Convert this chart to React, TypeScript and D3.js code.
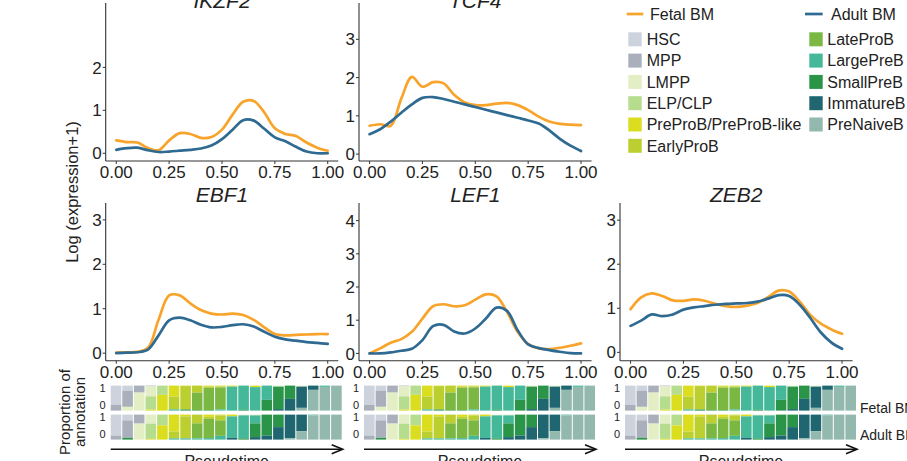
import React from "react";
import * as d3 from "d3";

// ---------------- data ----------------
const pseudotime = [0, 0.05, 0.1, 0.15, 0.2, 0.25, 0.3, 0.35, 0.4, 0.45, 0.5, 0.55, 0.6, 0.65, 0.7, 0.75, 0.8, 0.85, 0.9, 0.95, 1.0];

const ikzf2Fetal = [0.30, 0.26, 0.25, 0.12, 0.07, 0.30, 0.47, 0.45, 0.36, 0.38, 0.55, 0.90, 1.20, 1.22, 0.95, 0.58, 0.45, 0.40, 0.25, 0.13, 0.06];
const ikzf2Adult = [0.08, 0.12, 0.13, 0.07, 0.03, 0.04, 0.06, 0.08, 0.11, 0.18, 0.33, 0.55, 0.77, 0.76, 0.57, 0.37, 0.28, 0.15, 0.04, 0.0, 0.0];

const tcf4Fetal = [0.74, 0.78, 0.74, 1.45, 2.02, 1.76, 1.88, 1.85, 1.55, 1.35, 1.28, 1.28, 1.32, 1.34, 1.28, 1.15, 0.98, 0.85, 0.79, 0.77, 0.76];
const tcf4Adult = [0.52, 0.65, 0.85, 1.08, 1.3, 1.47, 1.49, 1.44, 1.37, 1.30, 1.23, 1.16, 1.09, 1.02, 0.95, 0.88, 0.80, 0.62, 0.40, 0.22, 0.08];

const ebf1Fetal = [0.01, 0.02, 0.03, 0.12, 0.75, 1.30, 1.30, 1.12, 0.97, 0.89, 0.87, 0.89, 0.86, 0.75, 0.58, 0.43, 0.40, 0.41, 0.42, 0.43, 0.43];
const ebf1Adult = [0.0, 0.01, 0.02, 0.08, 0.40, 0.74, 0.80, 0.74, 0.64, 0.58, 0.59, 0.63, 0.65, 0.60, 0.48, 0.37, 0.31, 0.28, 0.25, 0.23, 0.21];

const lef1Fetal = [0.0, 0.15, 0.32, 0.43, 0.65, 1.05, 1.42, 1.48, 1.42, 1.45, 1.62, 1.78, 1.72, 1.25, 0.65, 0.28, 0.15, 0.13, 0.17, 0.23, 0.30];
const lef1Adult = [0.0, 0.0, 0.03, 0.08, 0.14, 0.40, 0.82, 0.86, 0.66, 0.60, 0.75, 1.05, 1.38, 1.28, 0.70, 0.27, 0.16, 0.10, 0.05, 0.01, 0.0];

const zeb2Fetal = [0.98, 1.25, 1.34, 1.28, 1.18, 1.17, 1.20, 1.17, 1.10, 1.05, 1.03, 1.06, 1.12, 1.25, 1.40, 1.38, 1.15, 0.85, 0.65, 0.52, 0.42];
const zeb2Adult = [0.60, 0.72, 0.86, 0.82, 0.86, 0.97, 1.02, 1.05, 1.08, 1.10, 1.11, 1.12, 1.15, 1.22, 1.30, 1.28, 1.08, 0.78, 0.45, 0.22, 0.08];

const xTicks = [0, 0.25, 0.5, 0.75, 1.0];
const xTickLabels = ["0.00", "0.25", "0.50", "0.75", "1.00"];

const categories = ["HSC", "MPP", "LMPP", "ELP/CLP", "PreProB/PreProB-like", "EarlyProB", "LateProB", "LargePreB", "SmallPreB", "ImmatureB", "PreNaiveB"];
const categoryColors = ["#ccd3dc", "#a9b0bb", "#e4eec4", "#b6dc8e", "#dbdd1f", "#bccf30", "#7bb843", "#45b89a", "#2a9548", "#1f6671", "#93b8ae"];

// proportions per pseudotime bin, one value per category (HSC ... PreNaiveB)
const fetalBins = [
  [0.77, 0.23, 0, 0, 0, 0, 0, 0, 0, 0, 0],
  [0.2, 0.65, 0.15, 0, 0, 0, 0, 0, 0, 0, 0],
  [0, 0.28, 0.72, 0, 0, 0, 0, 0, 0, 0, 0],
  [0, 0.03, 0.4, 0.53, 0.04, 0, 0, 0, 0, 0, 0],
  [0, 0, 0, 0.37, 0.63, 0, 0, 0, 0, 0, 0],
  [0, 0, 0, 0, 0.44, 0.51, 0, 0.05, 0, 0, 0],
  [0, 0, 0, 0, 0.02, 0.92, 0.02, 0, 0.04, 0, 0],
  [0, 0, 0, 0, 0, 0.28, 0.7, 0, 0.02, 0, 0],
  [0, 0, 0, 0, 0.04, 0.05, 0.89, 0, 0.02, 0, 0],
  [0, 0, 0, 0, 0.03, 0.04, 0.88, 0.05, 0, 0, 0],
  [0, 0, 0, 0, 0.04, 0, 0, 0.96, 0, 0, 0],
  [0, 0, 0, 0, 0, 0, 0, 0.97, 0.03, 0, 0],
  [0, 0, 0, 0, 0.06, 0, 0, 0.94, 0, 0, 0],
  [0, 0, 0, 0, 0, 0, 0, 0.57, 0.43, 0, 0],
  [0, 0, 0.04, 0, 0, 0, 0, 0, 0.9, 0.06, 0],
  [0, 0, 0, 0, 0, 0, 0, 0, 0.53, 0.47, 0],
  [0, 0, 0.04, 0, 0, 0, 0, 0, 0, 0.85, 0.11],
  [0, 0, 0, 0, 0, 0, 0, 0, 0, 0.17, 0.83],
  [0, 0, 0, 0, 0, 0, 0, 0.05, 0, 0, 0.95],
  [0, 0, 0, 0, 0, 0, 0, 0, 0, 0, 1],
];
const adultBins = [
  [0.84, 0.16, 0, 0, 0, 0, 0, 0, 0, 0, 0],
  [0.23, 0.7, 0, 0, 0, 0, 0, 0, 0.07, 0, 0],
  [0, 0.36, 0.64, 0, 0, 0, 0, 0, 0, 0, 0],
  [0, 0, 0.36, 0.61, 0.03, 0, 0, 0, 0, 0, 0],
  [0, 0, 0, 0.43, 0.57, 0, 0, 0, 0, 0, 0],
  [0, 0, 0, 0, 0.68, 0.27, 0, 0.05, 0, 0, 0],
  [0, 0, 0, 0, 0.07, 0.88, 0, 0.05, 0, 0, 0],
  [0, 0, 0, 0, 0, 0.35, 0.6, 0.05, 0, 0, 0],
  [0, 0, 0, 0, 0.09, 0.08, 0.77, 0.06, 0, 0, 0],
  [0, 0, 0, 0, 0.03, 0.2, 0.62, 0.15, 0, 0, 0],
  [0, 0, 0, 0, 0.07, 0, 0, 0.86, 0, 0.07, 0],
  [0, 0, 0.03, 0, 0, 0, 0, 0.92, 0.05, 0, 0],
  [0, 0, 0.03, 0, 0, 0, 0, 0.32, 0.55, 0.1, 0],
  [0, 0, 0, 0, 0, 0, 0, 0, 0.84, 0.16, 0],
  [0, 0, 0, 0, 0, 0, 0, 0, 0.5, 0.5, 0],
  [0, 0, 0, 0, 0, 0, 0, 0, 0, 0.95, 0.05],
  [0, 0, 0, 0, 0, 0, 0, 0, 0, 0.67, 0.33],
  [0, 0, 0, 0, 0, 0, 0, 0.03, 0, 0, 0.97],
  [0, 0, 0, 0, 0, 0, 0, 0, 0, 0, 1],
  [0, 0, 0, 0, 0, 0, 0, 0, 0, 0, 1],
];

const FETAL = "#F8A32A";
const ADULT = "#2E6A92";
const TXT = "#222";
const AX = "#333";
const FONT = "'Liberation Sans', Arial, Helvetica, sans-serif";

// ---------------- layout ----------------
const colX = [105.7, 359, 620];
const axisW = 232.6;
const rowTop = [3, 203];
const rowBottom = [161, 360.7];
const titleY = [8, 202];
const xLabelY = [178, 377.5];

type PanelDef = {
  gene: string; col: number; row: number; fetal: number[]; adult: number[];
  domain: [number, number]; ticks: number[];
};

const panels: PanelDef[] = [
  { gene: "IKZF2", col: 0, row: 0, fetal: ikzf2Fetal, adult: ikzf2Adult, domain: [-0.18, 3.5], ticks: [0, 1, 2] },
  { gene: "TCF4", col: 1, row: 0, fetal: tcf4Fetal, adult: tcf4Adult, domain: [-0.18, 3.95], ticks: [0, 1, 2, 3] },
  { gene: "EBF1", col: 0, row: 1, fetal: ebf1Fetal, adult: ebf1Adult, domain: [-0.17, 3.38], ticks: [0, 1, 2, 3] },
  { gene: "LEF1", col: 1, row: 1, fetal: lef1Fetal, adult: lef1Adult, domain: [-0.22, 4.53], ticks: [0, 1, 2, 3, 4] },
  { gene: "ZEB2", col: 2, row: 1, fetal: zeb2Fetal, adult: zeb2Adult, domain: [-0.19, 3.39], ticks: [0, 1, 2, 3] },
];

function Panel({ p }: { p: PanelDef }) {
  const x0 = colX[p.col];
  const x = d3.scaleLinear().domain([-0.05, 1.05]).range([x0, x0 + axisW]);
  const y = d3.scaleLinear().domain(p.domain).range([rowBottom[p.row], rowTop[p.row]]);
  const line = d3
    .line<number>()
    .x((_, i) => x(pseudotime[i]))
    .y((d) => y(d))
    .curve(d3.curveCatmullRom.alpha(0.5));
  const bottom = rowBottom[p.row];
  return (
    <g>
      <text x={x0 + axisW / 2} y={titleY[p.row]} textAnchor="middle" fontSize={21} fontStyle="italic" fill={TXT}>
        {p.gene}
      </text>
      <line x1={x0} x2={x0} y1={rowTop[p.row]} y2={bottom} stroke={AX} strokeWidth={1.1} />
      <line x1={x0} x2={x0 + axisW} y1={bottom} y2={bottom} stroke={AX} strokeWidth={1.1} />
      {p.ticks.map((t) => (
        <g key={"y" + t}>
          <line x1={x0 - 3} x2={x0} y1={y(t)} y2={y(t)} stroke={AX} strokeWidth={1} />
          <text x={x0 - 4} y={y(t)} dy="0.36em" textAnchor="end" fontSize={17} fill={TXT}>
            {t}
          </text>
        </g>
      ))}
      {xTicks.map((t, i) => (
        <g key={"x" + t}>
          <line x1={x(t)} x2={x(t)} y1={bottom} y2={bottom + 3} stroke={AX} strokeWidth={1} />
          <text x={x(t)} y={xLabelY[p.row]} textAnchor="middle" fontSize={17} fill={TXT}>
            {xTickLabels[i]}
          </text>
        </g>
      ))}
      <path d={line(p.fetal) || ""} fill="none" stroke={FETAL} strokeWidth={2.7} strokeLinecap="round" />
      <path d={line(p.adult) || ""} fill="none" stroke={ADULT} strokeWidth={2.7} strokeLinecap="round" />
    </g>
  );
}

const stripTop = [385.6, 414.6];
const stripH = 25;
const stripW = 232;

function Strip({ col, showRight }: { col: number; showRight: boolean }) {
  const sx = colX[col] + 5;
  const band = d3
    .scaleBand<number>()
    .domain(d3.range(fetalBins.length))
    .range([sx, sx + stripW])
    .paddingInner(0);
  const bw = band.bandwidth();
  const sets = [fetalBins, adultBins];
  return (
    <g>
      {sets.map((bins, si) => {
        const top = stripTop[si];
        const yp = d3.scaleLinear().domain([0, 1]).range([top, top + stripH]);
        return (
          <g key={si}>
            {bins.map((row, bi) => {
              let cum = 0;
              return row.map((v, ci) => {
                if (v <= 0) return null;
                const y1 = yp(cum);
                cum += v;
                const y2 = yp(cum);
                return (
                  <rect key={bi + "-" + ci} x={band(bi)!} y={y1} width={bw - 1} height={y2 - y1} fill={categoryColors[ci]} />
                );
              });
            })}
            <text x={sx - 5} y={top + 2.5} dy="0.35em" textAnchor="end" fontSize={11} fill={TXT}>1</text>
            <text x={sx - 5} y={top + stripH - 5.5} dy="0.35em" textAnchor="end" fontSize={11} fill={TXT}>0</text>
          </g>
        );
      })}
      {showRight && (
        <g>
          <text x={sx + stripW + 3} y={408} dy="0.36em" fontSize={14} fill={TXT}>Fetal BM</text>
          <text x={sx + stripW + 3} y={435} dy="0.36em" fontSize={14} fill={TXT}>Adult BM</text>
        </g>
      )}
      <line x1={sx} x2={sx + stripW - 1} y1={449.3} y2={449.3} stroke="#111" strokeWidth={1.6} />
      <path
        d={`M${sx + stripW - 11},${449.3 - 4.5} L${sx + stripW},${449.3} L${sx + stripW - 11},${449.3 + 4.5}`}
        fill="none"
        stroke="#111"
        strokeWidth={1.6}
      />
      <text x={sx + stripW / 2} y={467} textAnchor="middle" fontSize={16} fill={TXT}>Pseudotime</text>
    </g>
  );
}

function Legend() {
  const leftCats = [0, 1, 2, 3, 4, 5];
  const rightCats = [6, 7, 8, 9, 10];
  const rowY = (i: number) => 39.3 + i * 21.3;
  return (
    <g fontSize={16} fill={TXT}>
      <line x1={626.7} x2={643.3} y1={14} y2={14} stroke={FETAL} strokeWidth={2.7} />
      <text x={650} y={14} dy="0.36em">Fetal BM</text>
      <line x1={805} x2={822.7} y1={14} y2={14} stroke={ADULT} strokeWidth={2.7} />
      <text x={831} y={14} dy="0.36em">Adult BM</text>
      {leftCats.map((c, i) => (
        <g key={c}>
          <rect x={628.3} y={rowY(i) - 7} width={13.4} height={14} fill={categoryColors[c]} />
          <text x={646.7} y={rowY(i)} dy="0.36em">{categories[c]}</text>
        </g>
      ))}
      {rightCats.map((c, i) => (
        <g key={c}>
          <rect x={809.3} y={rowY(i) - 7} width={13.4} height={14} fill={categoryColors[c]} />
          <text x={827.3} y={rowY(i)} dy="0.36em">{categories[c]}</text>
        </g>
      ))}
    </g>
  );
}

export default function App() {
  return (
    <svg
      width={907}
      height={461}
      viewBox="0 0 907 461"
      style={{ position: "absolute", left: 0, top: 0, display: "block", background: "#fff" }}
      fontFamily={FONT}
    >
      <rect x={0} y={0} width={907} height={461} fill="#fff" />
      {panels.map((p) => (
        <Panel key={p.gene} p={p} />
      ))}
      <text transform="translate(72,192) rotate(-90)" textAnchor="middle" dy="0.36em" fontSize={16.5} fill={TXT}>
        Log (expression+1)
      </text>
      <text transform="translate(65,412) rotate(-90)" textAnchor="middle" dy="0.36em" fontSize={15} fill={TXT}>
        Proportion of
      </text>
      <text transform="translate(80,412) rotate(-90)" textAnchor="middle" dy="0.36em" fontSize={15} fill={TXT}>
        annotation
      </text>
      <Strip col={0} showRight={false} />
      <Strip col={1} showRight={false} />
      <Strip col={2} showRight={true} />
      <Legend />
    </svg>
  );
}
